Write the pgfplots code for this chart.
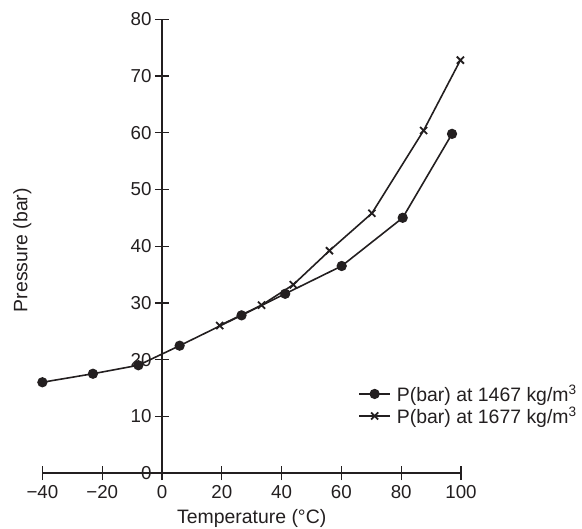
\documentclass[border=0pt]{standalone}
\usepackage{pgfplots}
\pgfplotsset{compat=1.18}
\usepackage{fontspec}
\setmainfont{Liberation Sans}
\definecolor{ink}{HTML}{231F20}
\begin{document}
\begin{tikzpicture}
\useasboundingbox (-42.4bp,-56bp) rectangle (539.6bp,473bp);
\begin{axis}[
  scale only axis,
  width=418.6bp, height=453.7bp,
  xmin=-40, xmax=100, ymin=0, ymax=80,
  axis lines=middle,
  axis line style={-, line width=1.6bp, ink},
  hide obscured x ticks=false,
  hide obscured y ticks=false,
  xtick={-40,-20,0,20,40,60,80,100},
  xticklabels={−40,−20,0,20,40,60,80,100},
  ytick={0,10,20,30,40,50,60,70,80},
  yticklabels={0,10,20,30,40,50,60,70,80},
  tick align=center,
  major tick length=14bp,
  tick style={line width=1.3bp, ink},
  ticklabel style={font=\fontsize{18.8}{20}\selectfont, text=ink},
  xticklabel style={anchor=north, yshift=-1.5bp},
  yticklabel style={anchor=east, xshift=0bp},
  every axis x label/.style={at={(axis description cs:0.5,0)}, anchor=base, yshift=-50bp},
  every axis y label/.style={at={(axis description cs:0,0.5)}, xshift=-20bp, yshift=-4bp, anchor=center, rotate=90},
  label style={font=\fontsize{19.5}{21}\selectfont, text=ink},
  xlabel={Temperature (°C)},
  ylabel={Pressure (bar)},
  clip=false,
  legend style={at={(axis cs:65.6,12)}, anchor=west, draw=none, fill=none,
    font=\fontsize{19.5}{21}\selectfont, text=ink, row sep=3.5bp, inner sep=0pt,
    nodes={inner sep=0pt},
    /tikz/every odd column/.append style={column sep=6bp}},
  legend cell align=left,
  legend image code/.code={\draw[mark repeat=2,mark phase=2] plot coordinates {(0bp,0bp) (15.5bp,0bp) (31bp,0bp)};},
]
\addplot[ink, line width=1.6bp, mark=*, mark size=4.3bp, mark options={solid, fill=ink}]
  coordinates {(-40,16.0) (-23.1,17.5) (-7.9,19.0) (5.9,22.45) (26.6,27.8) (41.2,31.6) (60.1,36.5) (80.5,45.0) (97,59.8)};
\addlegendentry{P(bar) at 1467 kg/m\textsuperscript{3}}
\addplot[ink, line width=1.6bp, mark=x, mark size=5bp, mark options={solid, line width=1.8bp}]
  coordinates {(19.3,26.0) (33.3,29.6) (43.9,33.2) (56.0,39.2) (70.2,45.8) (87.5,60.4) (99.8,72.8)};
\addlegendentry{P(bar) at 1677 kg/m\textsuperscript{3}}
\end{axis}
\end{tikzpicture}
\end{document}
